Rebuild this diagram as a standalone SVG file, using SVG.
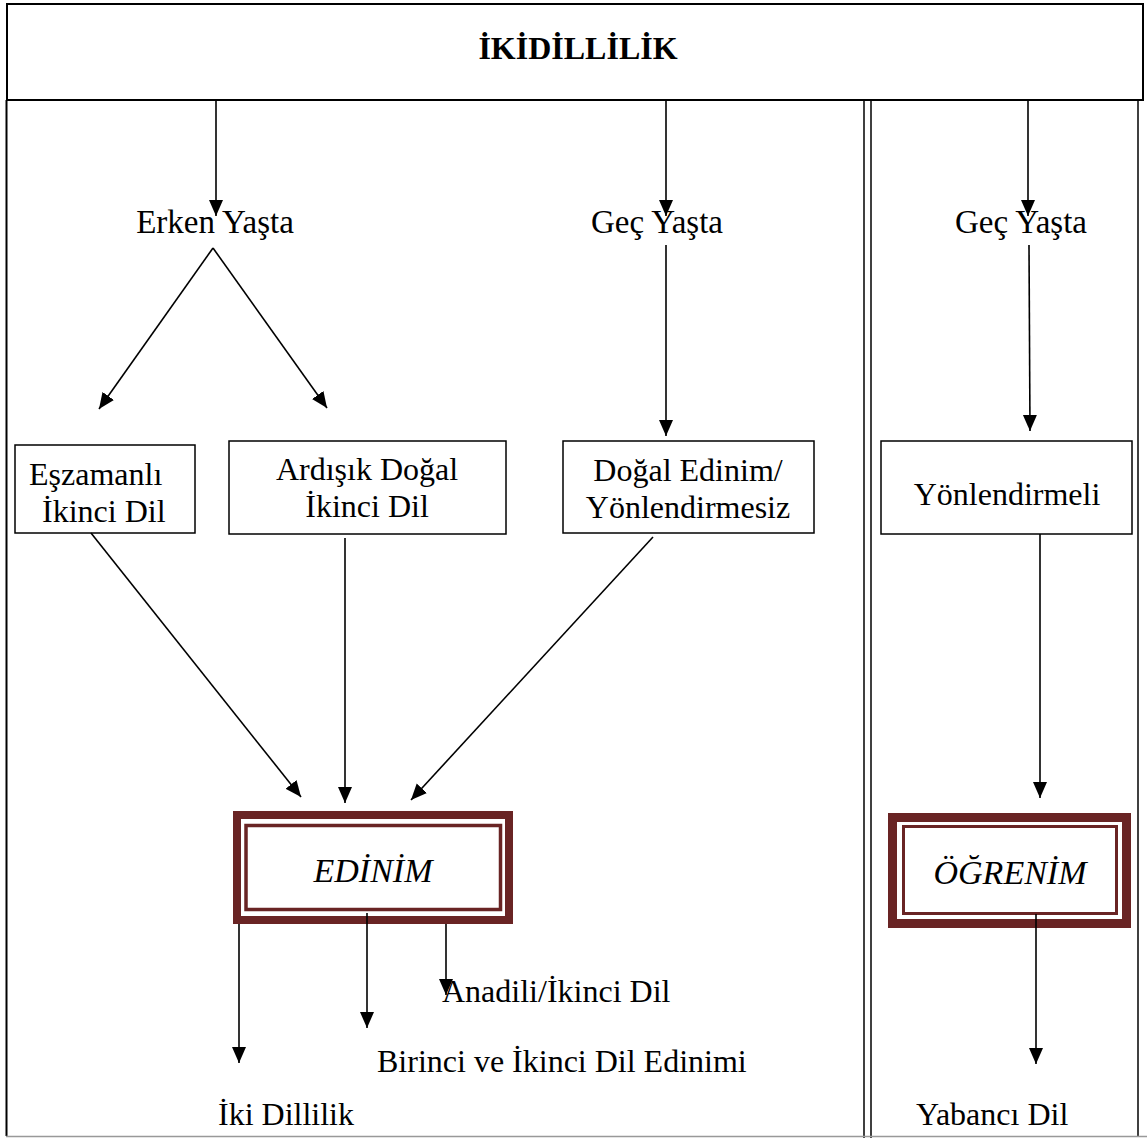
<svg xmlns="http://www.w3.org/2000/svg" width="1147" height="1138" viewBox="0 0 1147 1138">
<style>
.t{font-family:"Liberation Serif","Times New Roman",serif;font-size:32px;fill:#000}
.c{text-anchor:middle}
.y{font-size:33px}
.box{fill:#fff;stroke:#000;stroke-width:1.5}
.frame{fill:none;stroke:#000;stroke-width:2}
.cn{stroke:#000;stroke-width:1.6;fill:none;marker-end:url(#ah)}
.big{font-family:"Liberation Serif","DejaVu Serif",serif;font-style:italic;font-size:34px;fill:#000;text-anchor:middle}
.ob{fill:#fff;stroke:#692424}
</style>
<defs>
<marker id="ah" markerUnits="userSpaceOnUse" markerWidth="18" markerHeight="16" refX="16" refY="8" orient="auto">
<path d="M0,1 L16,8 L0,15 Z" fill="#000"/>
</marker>
</defs>
<rect width="1147" height="1138" fill="#fff"/>
<g id="frame">
<rect class="frame" x="7" y="4" width="1136" height="96"/>
<line x1="6.5" y1="100" x2="6.5" y2="1136" stroke="#000" stroke-width="2"/>
<line x1="864" y1="100" x2="864" y2="1138" stroke="#000" stroke-width="1.5"/>
<line x1="871" y1="100" x2="871" y2="1138" stroke="#000" stroke-width="1.5"/>
<line x1="1138" y1="100" x2="1138" y2="1136" stroke="#000" stroke-width="1.5"/>
<line x1="6" y1="1136.5" x2="1147" y2="1136.5" stroke="#999" stroke-width="1.5"/>
</g>
<g id="title"><text class="t c" x="578" y="59" font-weight="bold" font-size="35">İKİDİLLİLİK</text></g>
<g id="erken"><text class="t c y" x="215" y="233">Erken Yaşta</text></g>
<g id="gec1"><text class="t c y" x="657" y="233">Geç Yaşta</text></g>
<g id="gec2"><text class="t c y" x="1021" y="233">Geç Yaşta</text></g>
<g id="eszamanli">
<rect class="box" x="15" y="445" width="180" height="88"/>
<text class="t" x="29" y="485">Eşzamanlı</text>
<text class="t" x="42" y="522">İkinci Dil</text>
</g>
<g id="ardisik">
<rect class="box" x="229" y="441" width="277" height="93"/>
<text class="t c" x="367" y="480">Ardışık Doğal</text>
<text class="t c" x="367" y="517">İkinci Dil</text>
</g>
<g id="dogal">
<rect class="box" x="563" y="441" width="251" height="92"/>
<text class="t c" x="688" y="481">Doğal Edinim/</text>
<text class="t c" x="688" y="518">Yönlendirmesiz</text>
</g>
<g id="yonlendirmeli">
<rect class="box" x="881" y="441" width="251" height="93"/>
<text class="t c" x="1007" y="505">Yönlendirmeli</text>
</g>
<g id="edinim">
<rect class="ob" x="237" y="815" width="272" height="105" stroke-width="8"/>
<rect class="ob" x="246" y="825.5" width="254.5" height="84" stroke-width="3.5"/>
<text class="big" x="373" y="882">EDİNİM</text>
</g>
<g id="ogrenim">
<rect class="ob" x="892.5" y="817.5" width="234" height="106" stroke-width="9"/>
<rect class="ob" x="903.5" y="826.5" width="213" height="87" stroke-width="3"/>
<text class="big" x="1010" y="884">ÖĞRENİM</text>
</g>
<g id="anadili"><text class="t" x="442" y="1002">Anadili/İkinci Dil</text></g>
<g id="birinci"><text class="t" x="377" y="1072">Birinci ve İkinci Dil Edinimi</text></g>
<g id="ikidillilik"><text class="t" x="218" y="1125">İki Dillilik</text></g>
<g id="yabanci"><text class="t" x="916" y="1125">Yabancı Dil</text></g>
<g id="connectors">
<line class="cn" x1="216" y1="100" x2="216" y2="216"/>
<line class="cn" x1="666" y1="100" x2="666" y2="216"/>
<line class="cn" x1="1028" y1="100" x2="1028" y2="216"/>
<line class="cn" x1="213" y1="248" x2="99" y2="409"/>
<line class="cn" x1="213" y1="248" x2="327" y2="408"/>
<line class="cn" x1="666" y1="245" x2="666" y2="436"/>
<line class="cn" x1="1029" y1="245" x2="1030" y2="431"/>
<line class="cn" x1="91" y1="533" x2="301" y2="797"/>
<line class="cn" x1="345" y1="538" x2="345" y2="803"/>
<line class="cn" x1="653" y1="537" x2="411" y2="800"/>
<line class="cn" x1="1040" y1="534" x2="1040" y2="798"/>
<line class="cn" x1="239" y1="924" x2="239" y2="1063"/>
<line class="cn" x1="367" y1="913" x2="367" y2="1028"/>
<line class="cn" x1="446" y1="924" x2="446" y2="995"/>
<line class="cn" x1="1036" y1="914" x2="1036" y2="1064"/>
</g>
</svg>
